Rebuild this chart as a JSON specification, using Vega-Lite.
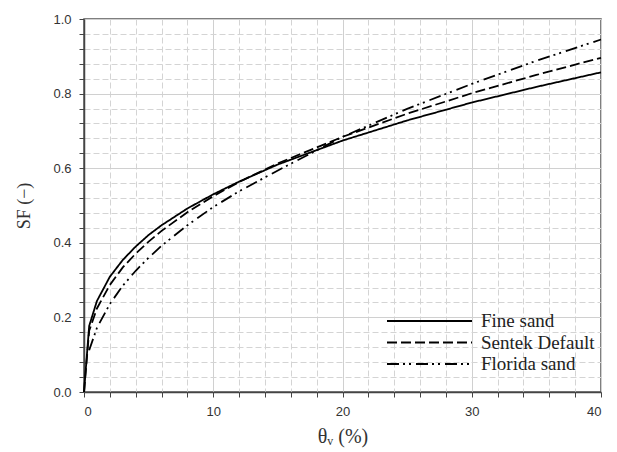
{
  "$schema": "https://vega.github.io/schema/vega-lite/v6.json",
  "width": 517,
  "height": 373,
  "padding": {"left": 15, "top": 13, "right": 10, "bottom": 5},
  "background": "white",
  "config": {
    "view": {"stroke": "#555555", "strokeWidth": 1.5},
    "axis": {"labelFont": "Liberation Sans", "labelFontSize": 13, "labelColor": "#333333", "titleFont": "Liberation Serif", "titleFontWeight": "normal", "titleColor": "#333333", "titleFontSize": 18, "domainColor": "#444444", "domainWidth": 1.5, "tickColor": "#444444", "tickSize": 5, "tickWidth": 1}
  },
  "data": {"values": [
    {"series": "Fine sand", "t": 0, "sf": 0},
    {"series": "Fine sand", "t": 0.4, "sf": 0.177},
    {"series": "Fine sand", "t": 1, "sf": 0.244},
    {"series": "Fine sand", "t": 2, "sf": 0.309},
    {"series": "Fine sand", "t": 3, "sf": 0.354},
    {"series": "Fine sand", "t": 4, "sf": 0.390},
    {"series": "Fine sand", "t": 5, "sf": 0.421},
    {"series": "Fine sand", "t": 6, "sf": 0.447},
    {"series": "Fine sand", "t": 8, "sf": 0.492},
    {"series": "Fine sand", "t": 10, "sf": 0.530},
    {"series": "Fine sand", "t": 12, "sf": 0.564},
    {"series": "Fine sand", "t": 15, "sf": 0.610},
    {"series": "Fine sand", "t": 20, "sf": 0.674},
    {"series": "Fine sand", "t": 25, "sf": 0.728},
    {"series": "Fine sand", "t": 30, "sf": 0.776},
    {"series": "Fine sand", "t": 35, "sf": 0.818},
    {"series": "Fine sand", "t": 40, "sf": 0.857},
    {"series": "Sentek Default", "t": 0, "sf": 0},
    {"series": "Sentek Default", "t": 0.4, "sf": 0.164},
    {"series": "Sentek Default", "t": 1, "sf": 0.224},
    {"series": "Sentek Default", "t": 2, "sf": 0.287},
    {"series": "Sentek Default", "t": 3, "sf": 0.334},
    {"series": "Sentek Default", "t": 4, "sf": 0.371},
    {"series": "Sentek Default", "t": 5, "sf": 0.403},
    {"series": "Sentek Default", "t": 6, "sf": 0.432},
    {"series": "Sentek Default", "t": 8, "sf": 0.482},
    {"series": "Sentek Default", "t": 10, "sf": 0.525},
    {"series": "Sentek Default", "t": 12, "sf": 0.563},
    {"series": "Sentek Default", "t": 15, "sf": 0.613},
    {"series": "Sentek Default", "t": 20, "sf": 0.684},
    {"series": "Sentek Default", "t": 25, "sf": 0.746},
    {"series": "Sentek Default", "t": 30, "sf": 0.801},
    {"series": "Sentek Default", "t": 35, "sf": 0.850},
    {"series": "Sentek Default", "t": 40, "sf": 0.896},
    {"series": "Florida sand", "t": 0.4, "sf": 0.112},
    {"series": "Florida sand", "t": 1, "sf": 0.172},
    {"series": "Florida sand", "t": 2, "sf": 0.236},
    {"series": "Florida sand", "t": 3, "sf": 0.285},
    {"series": "Florida sand", "t": 4, "sf": 0.325},
    {"series": "Florida sand", "t": 5, "sf": 0.360},
    {"series": "Florida sand", "t": 6, "sf": 0.392},
    {"series": "Florida sand", "t": 8, "sf": 0.447},
    {"series": "Florida sand", "t": 10, "sf": 0.496},
    {"series": "Florida sand", "t": 12, "sf": 0.538},
    {"series": "Florida sand", "t": 15, "sf": 0.594},
    {"series": "Florida sand", "t": 20, "sf": 0.684},
    {"series": "Florida sand", "t": 25, "sf": 0.759},
    {"series": "Florida sand", "t": 30, "sf": 0.826},
    {"series": "Florida sand", "t": 35, "sf": 0.888},
    {"series": "Florida sand", "t": 40, "sf": 0.945}
  ]},
  "layer": [
    {
      "mark": {"type": "line", "opacity": 0},
      "encoding": {
        "x": {"field": "t", "type": "quantitative", "scale": {"domain": [0, 40], "nice": false, "zero": true},
          "axis": {"orient": "bottom", "values": [2,4,6,8,12,14,16,18,22,24,26,28,32,34,36,38], "labels": false, "title": null, "domain": false, "grid": true, "gridColor": "#d4d4d4", "gridDash": [6, 3], "gridWidth": 1, "ticks": true}},
        "y": {"field": "sf", "type": "quantitative", "scale": {"domain": [0, 1], "nice": false},
          "axis": {"orient": "left", "values": [0.04,0.08,0.12,0.16,0.24,0.28,0.32,0.36,0.44,0.48,0.52,0.56,0.64,0.68,0.72,0.76,0.84,0.88,0.92,0.96], "labels": false, "title": null, "domain": false, "grid": true, "gridColor": "#d4d4d4", "gridDash": [6, 3], "gridWidth": 1, "ticks": true}},
        "detail": {"field": "series"}
      }
    },
    {
      "mark": {"type": "line", "color": "black", "strokeWidth": 1.8},
      "encoding": {
        "x": {"field": "t", "type": "quantitative",
          "axis": {"orient": "bottom", "values": [0, 10, 20, 30, 40], "format": "d", "title": "θᵥ (%)", "titleFontSize": 20, "grid": true, "gridColor": "#d0d0d0", "gridWidth": 1, "labelPadding": 8, "titlePadding": 8}},
        "y": {"field": "sf", "type": "quantitative",
          "axis": {"orient": "left", "values": [0, 0.2, 0.4, 0.6, 0.8, 1.0], "format": ".1f", "title": "SF (−)", "grid": true, "gridColor": "#d0d0d0", "gridWidth": 1, "labelPadding": 8, "titlePadding": 19}},
        "strokeDash": {"field": "series", "type": "nominal",
          "scale": {"domain": ["Fine sand", "Sentek Default", "Florida sand"], "range": [[1, 0], [10, 4], [12, 4, 2, 4, 2, 5]]},
          "legend": {"title": null, "orient": "none", "legendX": 302, "legendY": 292, "symbolType": "stroke", "symbolSize": 7225, "symbolStrokeWidth": 2, "symbolStrokeColor": "black", "labelFont": "Liberation Serif", "labelFontSize": 19, "labelColor": "#222222", "clipHeight": 20, "rowPadding": 1.5, "labelOffset": 8}}
      }
    }
  ],
  "resolve": {"axis": {"x": "independent", "y": "independent"}}
}
